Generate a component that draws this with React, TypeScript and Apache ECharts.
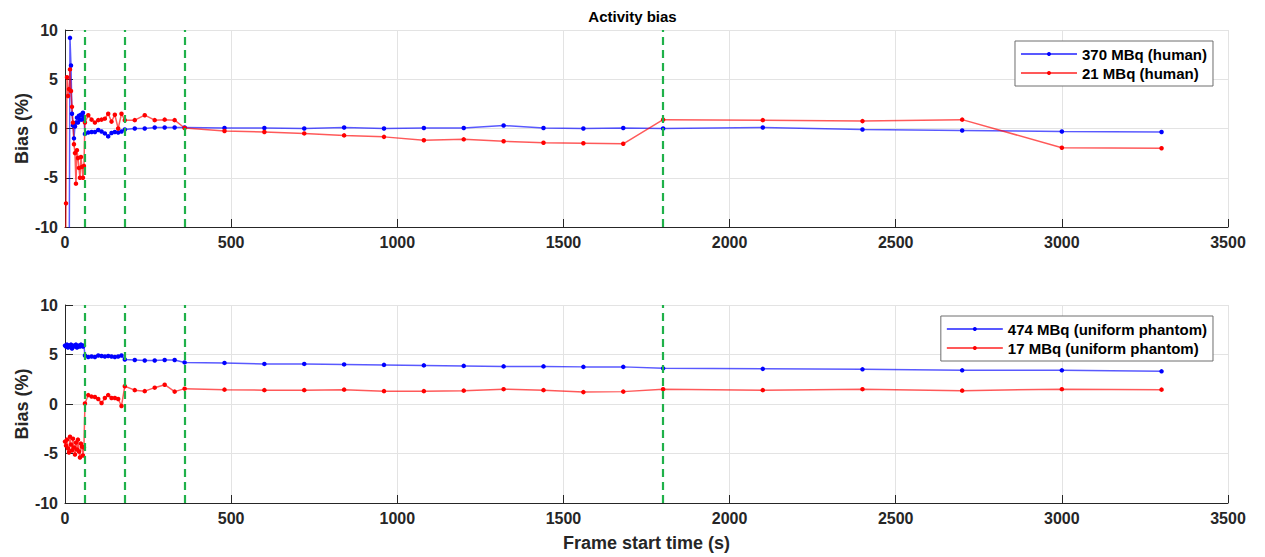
import React, { useEffect, useRef } from "react";
import * as echarts from "echarts";

// Frame start times (s)
const frameStart = [
  0, 3, 6, 9, 12, 15, 18, 21, 24, 27, 30, 33, 36, 39, 42, 45, 48, 51, 54, 57,
  60, 70, 80, 90, 100, 110, 120, 130, 140, 150, 160, 170,
  180, 210, 240, 270, 300, 330,
  360, 480, 600, 720, 840, 960, 1080, 1200, 1320, 1440, 1560, 1680,
  1800, 2100, 2400, 2700, 3000, 3300,
];

// Bias (%) – top panel (human)
const human370 = [
  -40, -35, -30, -25, -20, 9.2, 6.4, 1.5, 0.3, -1.0, 0.2, 0.6, 1.1, 0.6, 1.3, 0.9, 1.4, 0.9, 1.6, 1.2,
  -0.55, -0.4, -0.35, -0.35, -0.15, -0.3, -0.5, -0.8, -0.45, -0.35, -0.4, -0.3,
  -0.1, 0.0, 0.0, 0.1, 0.1, 0.1,
  0.1, 0.05, 0.05, 0.0, 0.1, 0.0, 0.05, 0.05, 0.3, 0.05, 0.0, 0.05,
  0.0, 0.1, -0.1, -0.2, -0.3, -0.35,
];
const human21 = [
  -20, -7.6, 5.2, 3.3, 4.0, 6.0, 3.8, 2.2, 0.6, -1.6, -2.5, -5.6, -2.2, -3.0, -4.0, -5.0, -2.9, -3.9, -5.0, -3.8,
  0.6, 1.35, 0.9, 0.6, 0.85, 0.9, 1.0, 1.5, 0.7, 1.4, 0.0, 1.5,
  0.85, 0.85, 1.35, 0.85, 0.9, 0.85,
  0.05, -0.25, -0.35, -0.5, -0.7, -0.85, -1.2, -1.1, -1.3, -1.45, -1.5, -1.55,
  0.9, 0.85, 0.75, 0.9, -1.95, -2.0,
];

// Bias (%) – bottom panel (uniform phantom)
const phantom474 = [
  5.9, 5.8, 6.0, 5.7, 5.9, 5.8, 6.0, 5.6, 5.9, 5.8, 5.9, 6.0, 5.7, 5.8, 5.9, 5.8, 6.0, 5.9, 5.8, 5.9,
  4.9, 4.75, 4.8, 4.75, 4.9, 4.85, 4.8, 4.85, 4.8, 4.75, 4.8, 4.9,
  4.5, 4.45, 4.4, 4.4, 4.45, 4.45,
  4.2, 4.15, 4.05, 4.05, 4.0, 3.95, 3.9, 3.85, 3.8, 3.8, 3.75, 3.75,
  3.6, 3.55, 3.5, 3.4, 3.4, 3.3,
];
const phantom17 = [
  -3.8, -4.2, -3.6, -4.5, -4.9, -3.3, -4.1, -4.7, -3.5, -4.4, -5.1, -3.9, -4.6, -3.6, -4.8, -5.4, -4.0, -4.3, -5.2, -4.4,
  0.05, 0.9, 0.75, 0.7, 0.5, 0.1, 0.6, 0.9, 0.6, 0.6, 0.5, -0.2,
  1.8, 1.4, 1.3, 1.65, 1.95, 1.25,
  1.55, 1.45, 1.4, 1.4, 1.45, 1.3, 1.3, 1.35, 1.5, 1.4, 1.2, 1.25,
  1.5, 1.4, 1.5, 1.35, 1.5, 1.45,
];

// Frame-duration change boundaries (s)
const frameBoundaries = [60, 180, 360, 1800];

const seriesNames = {
  h370: "370 MBq (human)",
  h21: "21 MBq (human)",
  p474: "474 MBq (uniform phantom)",
  p17: "17 MBq (uniform phantom)",
};

const FONT = '"Liberation Sans", Arial, Helvetica, sans-serif';
const AXIS_COLOR = "#262626";
const GRID_COLOR = "#e3e3e3";
const BLUE = "#0000ff";
const RED = "#ff0000";
const GREEN = "#1fb14a";

function pairs(values: number[]) {
  return frameStart.map((t, i) => [t, values[i]]);
}

function xAxisCfg(gridIndex: number, withName: boolean) {
  return {
    type: "value",
    gridIndex,
    min: 0,
    max: 3500,
    interval: 500,
    name: withName ? "Frame start time (s)" : "",
    nameLocation: "middle",
    nameGap: 31,
    nameMoveOverlap: false,
    nameTextStyle: { fontFamily: FONT, fontSize: 18, fontWeight: "bold", color: "#262626" },
    axisLine: { show: true, onZero: false, lineStyle: { color: AXIS_COLOR, width: 1 } },
    axisTick: { show: true, inside: true, length: 8, lineStyle: { color: AXIS_COLOR } },
    axisLabel: {
      fontFamily: FONT,
      fontSize: 16,
      fontWeight: "bold",
      color: AXIS_COLOR,
      margin: 7,
      formatter: (v: number) => String(v),
    },
    splitLine: { show: true, lineStyle: { color: GRID_COLOR, width: 1 } },
  };
}

function yAxisCfg(gridIndex: number) {
  return {
    type: "value",
    gridIndex,
    min: -10,
    max: 10,
    interval: 5,
    name: "Bias (%)",
    nameLocation: "middle",
    nameRotate: 90,
    nameGap: 34,
    nameMoveOverlap: false,
    nameTextStyle: { fontFamily: FONT, fontSize: 18, fontWeight: "bold", color: "#262626" },
    axisLine: { show: true, onZero: false, lineStyle: { color: AXIS_COLOR, width: 1 } },
    axisTick: { show: true, inside: true, length: 8, lineStyle: { color: AXIS_COLOR } },
    axisLabel: {
      fontFamily: FONT,
      fontSize: 16,
      fontWeight: "bold",
      color: AXIS_COLOR,
      margin: 7,
      formatter: (v: number) => String(v),
    },
    splitLine: { show: true, lineStyle: { color: GRID_COLOR, width: 1 } },
  };
}

function lineSeries(name: string, values: number[], color: string, idx: number, withMarks: boolean) {
  const s: any = {
    name,
    type: "line",
    xAxisIndex: idx,
    yAxisIndex: idx,
    data: pairs(values),
    symbol: "circle",
    symbolSize: 4.5,
    showSymbol: true,
    showAllSymbol: true,
    clip: true,
    itemStyle: { color },
    lineStyle: { color, width: 1.5, opacity: 0.65 },
  };
  if (withMarks) {
    s.markLine = {
      silent: true,
      symbol: "none",
      label: { show: false },
      lineStyle: { color: GREEN, width: 2.2, type: [8, 5], opacity: 1 },
      data: frameBoundaries.map((x) => ({ xAxis: x })),
    };
  }
  return s;
}

function legendCfg(names: string[], top: number, right: number) {
  return {
    data: names,
    orient: "vertical",
    top,
    right,
    itemWidth: 56,
    itemHeight: 5,
    itemGap: 1,
    padding: [4, 6, 4, 5],
    backgroundColor: "#fff",
    borderColor: "#6e6e6e",
    borderWidth: 1,
    borderRadius: 0,
    textStyle: { fontFamily: FONT, fontSize: 15, fontWeight: "bold", color: "#000", lineHeight: 18 },
  };
}

export default function App() {
  const ref = useRef<HTMLDivElement>(null);
  useEffect(() => {
    if (!ref.current) return;
    const chart = echarts.init(ref.current, null, { renderer: "svg" });
    chart.setOption({
      animation: false,
      backgroundColor: "#ffffff",
      textStyle: { fontFamily: FONT },
      title: {
        text: "Activity bias",
        left: "center",
        top: 4,
        textStyle: { fontFamily: FONT, fontSize: 15, fontWeight: "bold", color: "#000" },
      },
      grid: [
        { left: 65, right: 37, top: 30, height: 197, containLabel: false, outerBoundsMode: "none" },
        { left: 65, right: 37, top: 305, height: 198, containLabel: false, outerBoundsMode: "none" },
      ],
      xAxis: [xAxisCfg(0, false), xAxisCfg(1, true)],
      yAxis: [yAxisCfg(0), yAxisCfg(1)],
      legend: [
        legendCfg([seriesNames.h370, seriesNames.h21], 41, 52),
        legendCfg([seriesNames.p474, seriesNames.p17], 316, 52),
      ],
      series: [
        lineSeries(seriesNames.h370, human370, BLUE, 0, false),
        lineSeries(seriesNames.h21, human21, RED, 0, true),
        lineSeries(seriesNames.p474, phantom474, BLUE, 1, false),
        lineSeries(seriesNames.p17, phantom17, RED, 1, true),
      ],
    });
    return () => chart.dispose();
  }, []);
  return (
    <div
      ref={ref}
      style={{ position: "absolute", left: 0, top: 0, width: 1265, height: 557, background: "#fff" }}
    />
  );
}
